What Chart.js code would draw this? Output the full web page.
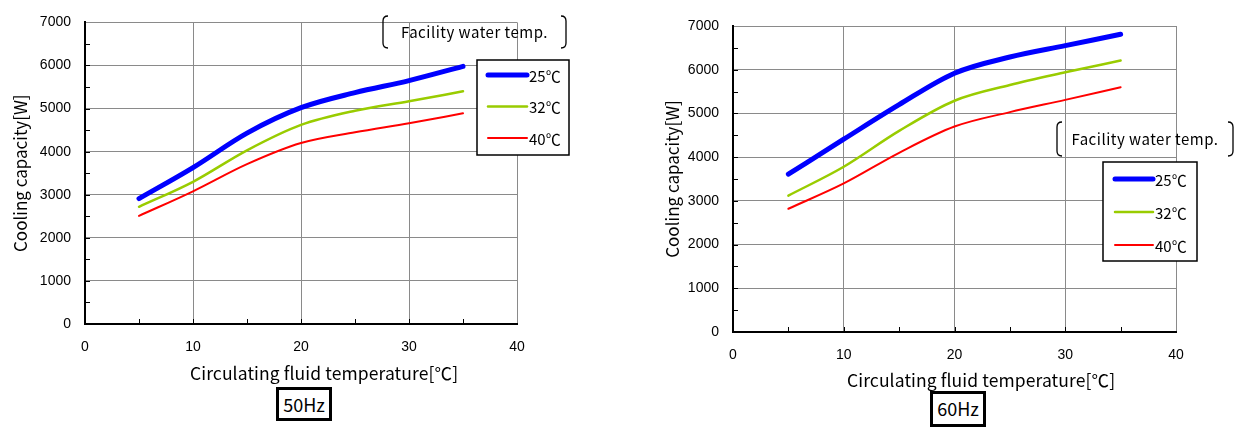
<!DOCTYPE html>
<html>
<head>
<meta charset="utf-8">
<script src="https://cdn.jsdelivr.net/npm/chart.js@4.4.1/dist/chart.umd.min.js"></script>
<style>
  body { margin: 0; background: #fff; width: 1246px; height: 428px; overflow: hidden; position: relative; }
  canvas { position: absolute; top: 0; }
  #c50 { left: 0; }
  #c60 { left: 623px; }
  .xtitle { position: absolute; font: 17.5px "Noto Sans CJK JP"; letter-spacing: 0.1px; color: #000; white-space: nowrap; line-height: 20px; }
  .hz { position: absolute; border: 3px solid #000; box-sizing: border-box; font: 18px "Noto Sans CJK JP"; text-align: center; background: #fff; }
</style>
</head>
<body>
<canvas id="c50" width="623" height="428"></canvas>
<canvas id="c60" width="623" height="428"></canvas>
<div class="xtitle" style="left:190px;top:363px;">Circulating fluid temperature[℃]</div>
<div class="xtitle" style="left:847px;top:370px;">Circulating fluid temperature[℃]</div>
<div class="hz" style="left:276px;top:387px;width:56px;height:34px;line-height:28px;">50Hz</div>
<div class="hz" style="left:930px;top:391px;width:56px;height:36px;line-height:28px;">60Hz</div>
<script>
// Circulating fluid temperature (℃)
const temps = [5, 10, 15, 20, 25, 30, 35];
const waterTemps = ['25℃', '32℃', '40℃'];
const lineColors = ['#0000ff', '#99cc00', '#ff0000'];
const lineWidths = [5, 2.5, 2];

// Cooling capacity [W], 50Hz
const cap50_25 = [2910, 3630, 4430, 5020, 5370, 5650, 5980];
const cap50_32 = [2720, 3300, 4030, 4620, 4950, 5170, 5400];
const cap50_40 = [2510, 3080, 3710, 4200, 4450, 4660, 4890];

// Cooling capacity [W], 60Hz
const cap60_25 = [3610, 4410, 5200, 5920, 6290, 6550, 6810];
const cap60_32 = [3120, 3780, 4600, 5290, 5650, 5940, 6210];
const cap60_40 = [2820, 3400, 4100, 4700, 5030, 5310, 5600];

const xMax = 40, xStep = 10;
const yMax = 7000, yStep = 1000;

const tickFont = { family: 'Liberation Sans', size: 14 };
Chart.defaults.color = '#000';

const decor = {
  id: 'decor',
  beforeDatasetsDraw(chart) {
    // small inward ticks on the axes
    const { ctx, chartArea: a, scales: { x, y } } = chart;
    ctx.save();
    ctx.strokeStyle = '#000';
    ctx.lineWidth = 1;
    ctx.beginPath();
    for (let v = 500; v < yMax; v += 500) {
      const py = Math.round(y.getPixelForValue(v)) + 0.5;
      ctx.moveTo(a.left, py); ctx.lineTo(a.left + 5, py);
    }
    for (let v = 5; v < xMax; v += 5) {
      const px = Math.round(x.getPixelForValue(v)) + 0.5;
      ctx.moveTo(px, a.bottom); ctx.lineTo(px, a.bottom - 5);
    }
    ctx.stroke();
    ctx.restore();
  },
  afterDraw(chart, args, opts) {
    const ctx = chart.ctx;
    ctx.save();

    // "Facility water temp." with rounded brackets
    const n = opts.note;
    ctx.strokeStyle = '#000';
    ctx.lineWidth = 1.3;
    ctx.beginPath();
    ctx.moveTo(n.x + 5, n.y);
    ctx.quadraticCurveTo(n.x, n.y, n.x, n.y + 5);
    ctx.lineTo(n.x, n.y + n.h - 5);
    ctx.quadraticCurveTo(n.x, n.y + n.h, n.x + 5, n.y + n.h);
    const r = n.x + n.w;
    ctx.moveTo(r - 5, n.y);
    ctx.quadraticCurveTo(r, n.y, r, n.y + 5);
    ctx.lineTo(r, n.y + n.h - 5);
    ctx.quadraticCurveTo(r, n.y + n.h, r - 5, n.y + n.h);
    ctx.stroke();
    ctx.fillStyle = '#000';
    ctx.font = '15px "Noto Sans CJK JP"';
    ctx.letterSpacing = '0.5px';
    ctx.textAlign = 'center';
    ctx.textBaseline = 'middle';
    ctx.fillText('Facility water temp.', n.x + n.w / 2, n.y + n.h / 2);
    ctx.letterSpacing = '0px';

    // legend box
    const L = opts.legend;
    ctx.fillStyle = '#fff';
    ctx.fillRect(L.x, L.y, L.w, L.h);
    ctx.lineWidth = 1.5;
    ctx.strokeRect(L.x, L.y, L.w, L.h);
    ctx.textAlign = 'left';
    ctx.font = '15px "Noto Sans CJK JP"';
    chart.data.datasets.forEach((ds, i) => {
      const yy = L.y + L.first + i * L.gap;
      ctx.strokeStyle = ds.borderColor;
      ctx.lineWidth = ds.borderWidth;
      ctx.lineCap = 'round';
      ctx.beginPath();
      ctx.moveTo(L.x + L.lineFrom, yy);
      ctx.lineTo(L.x + L.lineTo, yy);
      ctx.stroke();
      ctx.fillStyle = '#000';
      ctx.fillText(ds.label, L.x + L.lineTo + 2, yy + 1);
    });
    ctx.restore();
  }
};

function makeChart(id, series, g) {
  return new Chart(document.getElementById(id), {
    type: 'line',
    data: {
      datasets: series.map((vals, i) => ({
        label: waterTemps[i],
        data: temps.map((t, k) => ({ x: t, y: vals[k] })),
        borderColor: lineColors[i],
        borderWidth: lineWidths[i],
        borderCapStyle: 'round',
        pointRadius: 0,
        cubicInterpolationMode: 'monotone',
        fill: false
      }))
    },
    options: {
      responsive: false,
      animation: false,
      layout: { padding: g.padding },
      plugins: {
        legend: { display: false },
        tooltip: { enabled: false },
        decor: { note: g.note, legend: g.legend }
      },
      scales: {
        x: {
          type: 'linear',
          min: 0, max: xMax,
          afterFit: (s) => { s.height = g.xHeight; },
          ticks: { stepSize: xStep, padding: 15, font: tickFont, callback: (v) => String(v) },
          grid: { color: '#8a8a8a', lineWidth: 1, drawTicks: false },
          border: { color: '#000', width: 2 }
        },
        y: {
          min: 0, max: yMax,
          afterFit: (s) => { s.width = g.yWidth; },
          ticks: { stepSize: yStep, padding: 14, font: tickFont, callback: (v) => String(v) },
          grid: { color: '#8a8a8a', lineWidth: 1, drawTicks: false },
          border: { color: '#000', width: 2 },
          title: {
            display: true,
            text: 'Cooling capacity[W]',
            font: { family: '"Noto Sans CJK JP"', size: 17 },
            padding: 0
          }
        }
      }
    },
    plugins: [decor]
  });
}

makeChart('c50', [cap50_25, cap50_32, cap50_40], {
  padding: { left: 10, right: 106, top: 19, bottom: 0 },
  yWidth: 75,
  xHeight: 104,
  note: { x: 383, y: 16, w: 183, h: 32 },
  legend: { x: 477, y: 60, w: 92, h: 95, first: 15, gap: 31.5, lineFrom: 11, lineTo: 50 }
});

makeChart('c60', [cap60_25, cap60_32, cap60_40], {
  padding: { left: 39, right: 70, top: 26, bottom: 0 },
  yWidth: 71,
  xHeight: 96,
  note: { x: 434, y: 122, w: 176, h: 34 },
  legend: { x: 480, y: 162, w: 94, h: 99, first: 17, gap: 33, lineFrom: 12, lineTo: 50 }
});
</script>
</body>
</html>
